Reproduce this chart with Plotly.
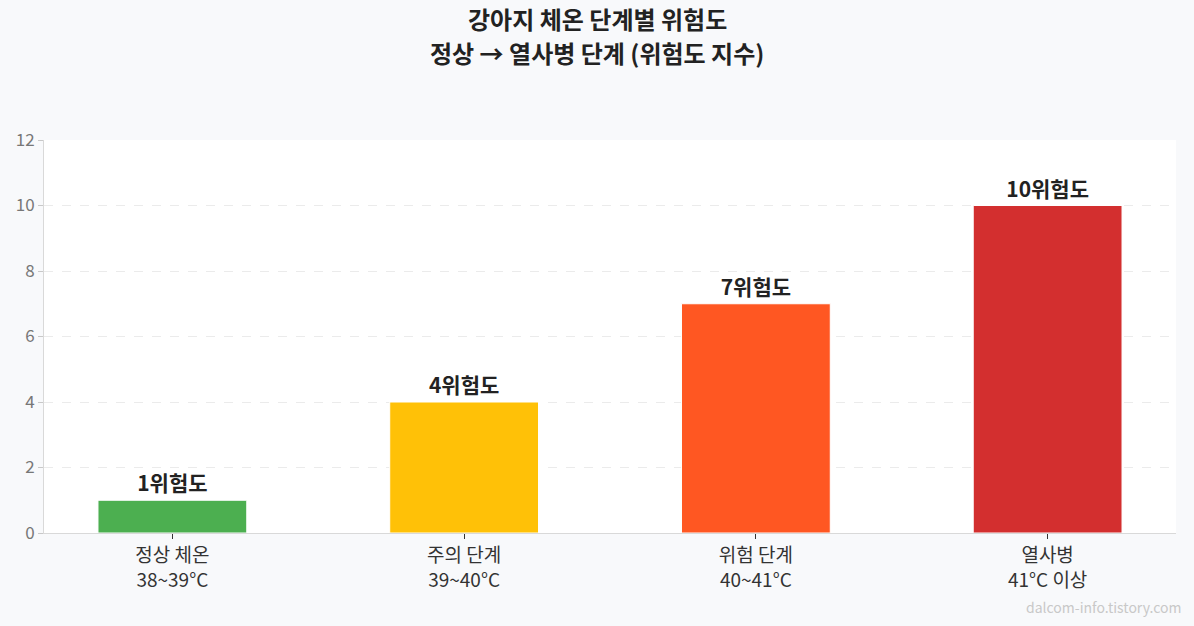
import plotly.graph_objects as go

categories = ["정상 체온<br>38~39°C", "주의 단계<br>39~40°C", "위험 단계<br>40~41°C", "열사병<br>41°C 이상"]
risk_values = [1, 4, 7, 10]
value_labels = ["1위험도", "4위험도", "7위험도", "10위험도"]
bar_colors = ["#4CAF50", "#FFC107", "#FF5722", "#D32F2F"]
y_ticks = [0, 2, 4, 6, 8, 10, 12]
title_lines = ["강아지 체온 단계별 위험도", "정상 → 열사병 단계 (위험도 지수)"]

FONT = "Noto Sans CJK KR"
W, H = 1194, 626
PLOT_LEFT, PLOT_RIGHT = 44, 1176
PLOT_TOP, PLOT_BOTTOM = 140, 533


def py(pixel_y):
    return (PLOT_BOTTOM - pixel_y) / (PLOT_BOTTOM - PLOT_TOP)


def px(pixel_x):
    return (pixel_x - PLOT_LEFT) / (PLOT_RIGHT - PLOT_LEFT)


fig = go.Figure()
fig.add_trace(go.Bar(
    x=list(range(len(categories))),
    y=risk_values,
    width=0.51,
    marker=dict(color=bar_colors, line=dict(color="white", width=1)),
    text=value_labels,
    textposition="outside",
    textfont=dict(family=FONT, size=21, color="#222222", weight="bold"),
    cliponaxis=False,
    hoverinfo="skip",
))

annotations = [
    dict(text=title_lines[0], xref="paper", yref="paper", x=px(W / 2), y=py(19),
         xanchor="center", yanchor="middle", showarrow=False,
         font=dict(family=FONT, size=24, color="#222222", weight="bold")),
    dict(text=title_lines[1], xref="paper", yref="paper", x=px(W / 2), y=py(52),
         xanchor="center", yanchor="middle", showarrow=False,
         font=dict(family=FONT, size=24, color="#222222", weight="bold")),
    dict(text="dalcom-info.tistory.com",
         xref="paper", yref="paper", x=px(1183), y=py(607),
         xanchor="right", yanchor="middle", showarrow=False,
         font=dict(family=FONT, size=14, color="#C8C8C8")),
]

fig.update_layout(
    width=W, height=H,
    margin=dict(l=PLOT_LEFT, r=W - PLOT_RIGHT, t=PLOT_TOP, b=H - PLOT_BOTTOM),
    paper_bgcolor="#F8F9FB",
    plot_bgcolor="#FFFFFF",
    showlegend=False,
    font=dict(family=FONT),
    xaxis=dict(
        tickmode="array",
        tickvals=list(range(len(categories))),
        ticktext=categories,
        range=[-0.44, 3.44],
        showgrid=False,
        showline=True, linecolor="#D9D9D9", linewidth=1,
        ticks="outside", ticklen=5, tickcolor="#333333", tickwidth=1,
        tickfont=dict(family=FONT, size=19, color="#333333"),
        zeroline=False,
    ),
    yaxis=dict(
        range=[0, 12],
        tickvals=y_ticks,
        showgrid=True, gridcolor="#EBEBEB", griddash="dash", gridwidth=1,
        showline=True, linecolor="#D9D9D9", linewidth=1,
        ticks="outside", ticklen=5, tickcolor="#C8C8C8",
        tickfont=dict(family=FONT, size=17, color="#777777"),
        zeroline=False,
    ),
    annotations=annotations,
)

fig.write_html("out.html")
